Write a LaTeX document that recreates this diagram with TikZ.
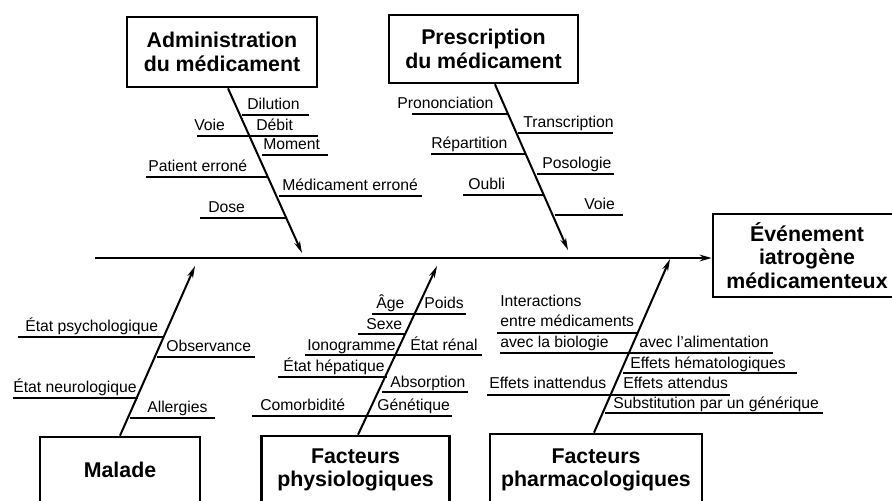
\documentclass[tikz,border=0pt]{standalone}
\usepackage{fontspec}
\setmainfont{Liberation Sans}
\usetikzlibrary{arrows.meta,positioning}

\tikzset{
    cause/.style={draw, line width=2pt, align=center, inner sep=0pt,
                  font=\bfseries\fontsize{16}{17.5}\selectfont},
    lbl/.style={anchor=base west, inner sep=0pt, font=\fontsize{11.8}{14}\selectfont},
    bone/.style={->, line width=1.5pt},
    spine/.style={->, line width=1.9pt},
    twig/.style={line width=1pt}
}

\begin{document}
\begin{tikzpicture}[x=0.75pt, y=-0.75pt, >={Stealth[length=9pt,width=4.5pt]}]
    \clip (0,0) rectangle (892,500);

    % Boxes {admin, prescr, effet, malade, physio, pharma}
    \node [cause, minimum width=142.5pt, minimum height=52.5pt] (admin)  at (222,52)    {Administration\\du médicament};
    \node [cause, minimum width=141.8pt, minimum height=51pt]   (prescr) at (483.5,49)  {Prescription\\du médicament};
    \node [cause, minimum width=141pt,   minimum height=62.3pt] (effet)  at (807,255.5) {Événement\\iatrogène\\médicamenteux};
    \node [cause, minimum width=120pt,   minimum height=49.5pt] (malade) at (120,470)   {Malade};
    \node [cause, minimum width=141pt,   minimum height=51pt]   (physio) at (355.5,470) {Facteurs\\physiologiques};
    \node [cause, minimum width=159pt,   minimum height=54pt]   (pharma) at (596,470)   {Facteurs\\pharmacologiques};

    % Spine and bones
    \coordinate (tail)    at (95,258);
    \coordinate (tipA)    at (302,253);
    \coordinate (tipP)    at (568,250);
    \coordinate (tipM)    at (195,266);
    \coordinate (tipF)    at (437,266);
    \coordinate (tipH)    at (670,259);

    \draw [spine, >={Stealth[length=9pt,width=5pt]}] (tail) -- (tail -| effet.west);
    \draw [bone] ([xshift=4.5pt]admin.south)  -- (tipA);
    \draw [bone] ([xshift=8.6pt]prescr.south) -- (tipP);
    \draw [bone] (malade.north)               -- (tipM);
    \draw [bone] ([xshift=1.9pt]physio.north) -- (tipF);
    \draw [bone] ([xshift=-1.5pt]pharma.north) -- (tipH);

    % Administration du medicament
    \node [lbl] (dilution) at (247,109) {Dilution};
    \node [lbl] (voieA)    at (194,130) {Voie};
    \node [lbl] (debit)    at (256,130) {Débit};
    \node [lbl] (moment)   at (263,149) {Moment};
    \node [lbl] (patient)  at (148,171) {Patient erroné};
    \node [lbl] (medic)    at (282,190) {Médicament erroné};
    \node [lbl] (dose)     at (208,212) {Dose};
    \draw [twig] (242,115) -- (309,115);
    \draw [twig] (197,136) -- (318,136);
    \draw [twig] (262,155) -- (328,155);
    \draw [twig] (146,177) -- (268,177);
    \draw [twig] (279,196) -- (422,196);
    \draw [twig] (200,218) -- (287,218);

    % Prescription du medicament
    \node [lbl] (prononc)  at (397,108) {Prononciation};
    \node [lbl] (transc)   at (523,127) {Transcription};
    \node [lbl] (repart)   at (431,148) {Répartition};
    \node [lbl] (posol)    at (542,168) {Posologie};
    \node [lbl] (oubli)    at (468,189) {Oubli};
    \node [lbl] (voieP)    at (584,209) {Voie};
    \draw [twig] (412,114) -- (508,114);
    \draw [twig] (518,133) -- (613,133);
    \draw [twig] (431,154) -- (525,154);
    \draw [twig] (537,174) -- (614,174);
    \draw [twig] (463,195) -- (543,195);
    \draw [twig] (555,215) -- (623,215);

    % Malade
    \node [lbl] (psycho)   at (25,331)  {État psychologique};
    \node [lbl] (observ)   at (166,351) {Observance};
    \node [lbl] (neuro)    at (13,392)  {État neurologique};
    \node [lbl] (allerg)   at (147,412) {Allergies};
    \draw [twig] (18,337)  -- (163,337);
    \draw [twig] (157,357) -- (255,357);
    \draw [twig] (13,398)  -- (138,398);
    \draw [twig] (130,418) -- (215,418);

    % Facteurs physiologiques
    \node [lbl] (age)      at (376,308) {Âge};
    \node [lbl] (poids)    at (424,308) {Poids};
    \node [lbl] (sexe)     at (366,329) {Sexe};
    \node [lbl] (iono)     at (307,350) {Ionogramme};
    \node [lbl] (renal)    at (410,350) {État rénal};
    \node [lbl] (hepat)    at (283,371) {État hépatique};
    \node [lbl] (absorp)   at (390,387) {Absorption};
    \node [lbl] (comorb)   at (260,410) {Comorbidité};
    \node [lbl] (genet)    at (377,410) {Génétique};
    \draw [twig] (372,314) -- (466,314);
    \draw [twig] (358,334) -- (405,334);
    \draw [twig] (305,355) -- (482,355);
    \draw [twig] (278,377) -- (387,377);
    \draw [twig] (382,392) -- (468,392);
    \draw [twig] (252,416) -- (452,416);

    % Facteurs pharmacologiques
    \node [lbl] (inter)    at (500,306) {Interactions};
    \node [lbl] (entre)    at (500,326) {entre médicaments};
    \node [lbl] (biolog)   at (500,347) {avec la biologie};
    \node [lbl] (aliment)  at (639,347) {avec l'alimentation};
    \node [lbl] (hemato)   at (630,368) {Effets hématologiques};
    \node [lbl] (inatt)    at (489,388) {Effets inattendus};
    \node [lbl] (attend)   at (623,388) {Effets attendus};
    \node [lbl] (generiq)  at (613,408) {Substitution par un générique};
    \draw [twig] (497,333) -- (637,333);
    \draw [twig] (500,353) -- (773,353);
    \draw [twig] (623,373) -- (797,373);
    \draw [twig] (487,395) -- (730,395);
    \draw [twig] (605,413) -- (823,413);
\end{tikzpicture}
\end{document}
